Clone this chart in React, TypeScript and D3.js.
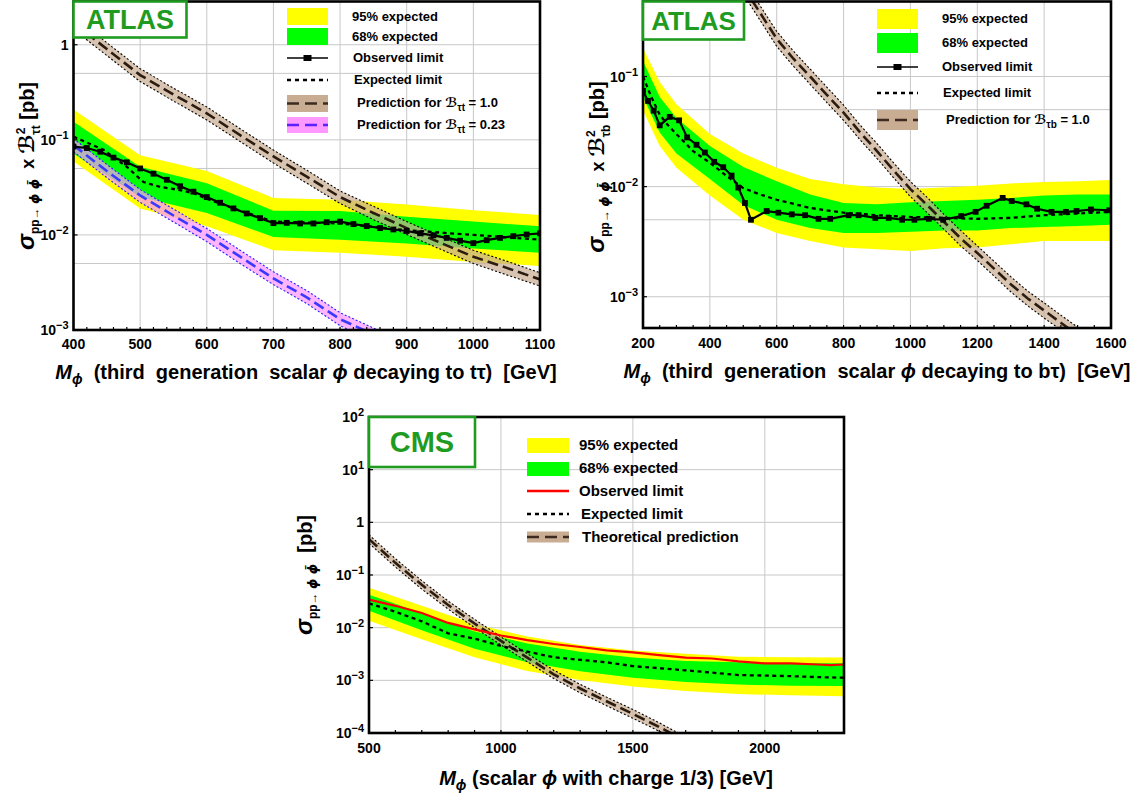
import React from "react";
import * as d3 from "d3";

const FONT = '"Liberation Sans", Arial, Helvetica, sans-serif';
const YELLOW = "#ffff00";
const GREEN = "#00ff00";
const TAN = "#c9ad92";
const PINK = "#ff99ff";
const LOGO = "#1f9c1f";
const GRID = "#c8c8c8";

// ---------- Panel A : t tau ----------
const ttBandX = [400, 500, 600, 700, 800, 900, 1000, 1100];
const ttYellowHi = [0.209, 0.069, 0.047, 0.0245, 0.0234, 0.0209, 0.0182, 0.0162];
const ttGreenHi = [0.155, 0.052, 0.035, 0.018, 0.0178, 0.0155, 0.0138, 0.0123];
const ttGreenLo = [0.072, 0.025, 0.017, 0.0095, 0.0089, 0.0081, 0.0072, 0.0065];
const ttYellowLo = [0.059, 0.019, 0.0123, 0.0069, 0.0065, 0.0059, 0.0052, 0.0047];
const ttExpX = [400, 445, 480, 505, 530, 555, 580, 600, 650, 700, 800, 900, 1000, 1100];
const ttExp = [0.108, 0.0785, 0.052, 0.036, 0.032, 0.03, 0.0275, 0.024, 0.018, 0.0138, 0.0132, 0.0112, 0.01, 0.0089];
const ttObsX = [400, 420, 440, 460, 480, 500, 520, 540, 560, 580, 600, 620, 640, 660, 680, 700, 720, 740, 760, 780, 800, 820, 840, 860, 880, 900, 920, 940, 960, 980, 1000, 1020, 1040, 1060, 1080, 1100];
const ttObs = [0.085, 0.082, 0.075, 0.065, 0.058, 0.05, 0.044, 0.038, 0.0325, 0.0285, 0.025, 0.0218, 0.019, 0.0168, 0.015, 0.0133, 0.0134, 0.0132, 0.0132, 0.0136, 0.0138, 0.013, 0.0124, 0.0118, 0.0114, 0.011, 0.0104, 0.0099, 0.0093, 0.0087, 0.0082, 0.0088, 0.0093, 0.0097, 0.0101, 0.0104];
const ttThX = [400, 450, 500, 550, 600, 650, 700, 750, 800, 850, 900, 950, 1000, 1050, 1100];
const ttTh = [1.7, 0.9, 0.48, 0.3, 0.19, 0.112, 0.067, 0.041, 0.025, 0.017, 0.0118, 0.0083, 0.0059, 0.0045, 0.0034];
const ttThHi = [1.99, 1.05, 0.56, 0.35, 0.222, 0.131, 0.078, 0.048, 0.029, 0.02, 0.0138, 0.0097, 0.0069, 0.0053, 0.004];
const ttThLo = [1.45, 0.77, 0.41, 0.256, 0.162, 0.096, 0.057, 0.035, 0.0214, 0.0145, 0.0101, 0.0071, 0.005, 0.0038, 0.0029];
const ttTh23 = [0.088, 0.047, 0.026, 0.016, 0.01, 0.0059, 0.0035, 0.0022, 0.0013, 0.0009, 0.00062, 0.00044, 0.00031, 0.00024, 0.00018];
const ttTh23Hi = [0.103, 0.055, 0.03, 0.0187, 0.0117, 0.0069, 0.0041, 0.0026, 0.00152, 0.00105, 0.00073, 0.00051, 0.00036, 0.00028, 0.00021];
const ttTh23Lo = [0.075, 0.04, 0.022, 0.0137, 0.0085, 0.005, 0.003, 0.0019, 0.00111, 0.00077, 0.00053, 0.00038, 0.00026, 0.00021, 0.00015];
const ttXTicks = [400, 500, 600, 700, 800, 900, 1000, 1100];
const ttYGrid = [1, 0.5, 0.1, 0.05, 0.01, 0.005, 0.001];
const ttYLabels: [number, string, string][] = [[1, "1", ""], [0.1, "10", "−1"], [0.01, "10", "−2"], [0.001, "10", "−3"]];

// ---------- Panel B : b tau ----------
const tbBandX = [200, 250, 300, 400, 500, 600, 700, 800, 900, 1000, 1100, 1200, 1300, 1400, 1500, 1600];
const tbYellowHi = [0.182, 0.089, 0.056, 0.03, 0.02, 0.0148, 0.0117, 0.0105, 0.0098, 0.0095, 0.0098, 0.0102, 0.0107, 0.011, 0.0112, 0.0115];
const tbGreenHi = [0.138, 0.065, 0.042, 0.0234, 0.0151, 0.0112, 0.0085, 0.0071, 0.0069, 0.0072, 0.0074, 0.0076, 0.0079, 0.0083, 0.0085, 0.0085];
const tbGreenLo = [0.065, 0.031, 0.02, 0.0117, 0.0068, 0.005, 0.0042, 0.0038, 0.0038, 0.0039, 0.004, 0.004, 0.0042, 0.0043, 0.0044, 0.0045];
const tbYellowLo = [0.049, 0.0234, 0.0148, 0.0083, 0.005, 0.0038, 0.0032, 0.0028, 0.0027, 0.0026, 0.00275, 0.0028, 0.003, 0.0032, 0.0032, 0.0032];
const tbExpX = [200, 225, 250, 275, 300, 350, 400, 450, 500, 550, 600, 700, 800, 900, 1000, 1100, 1200, 1300, 1400, 1500, 1600];
const tbExp = [0.1, 0.065, 0.045, 0.036, 0.03, 0.021, 0.0165, 0.0125, 0.0097, 0.0085, 0.0076, 0.0064, 0.0058, 0.0055, 0.0053, 0.0052, 0.0051, 0.0052, 0.0055, 0.0057, 0.0059];
const tbObsX = [200, 215, 232, 250, 280, 308, 332, 360, 385, 413, 440, 465, 485, 505, 523, 570, 605, 645, 685, 725, 760, 815, 845, 895, 935, 975, 1012, 1055, 1098, 1152, 1195, 1228, 1276, 1303, 1347, 1379, 1422, 1465, 1497, 1540, 1595];
const tbObs = [0.074, 0.06, 0.049, 0.036, 0.043, 0.04, 0.028, 0.024, 0.0204, 0.0168, 0.015, 0.0126, 0.0098, 0.0071, 0.005, 0.006, 0.0058, 0.0056, 0.0055, 0.0051, 0.0051, 0.0055, 0.0055, 0.0052, 0.0052, 0.005, 0.005, 0.0051, 0.005, 0.0054, 0.0059, 0.0067, 0.0079, 0.0074, 0.0069, 0.0063, 0.0059, 0.0059, 0.006, 0.0062, 0.0061];
const tbThX = [500, 550, 600, 650, 700, 750, 800, 850, 900, 950, 1000, 1050, 1100, 1150, 1200, 1250, 1300, 1350, 1400, 1450, 1500, 1550];
const tbTh = [0.65, 0.38, 0.22, 0.145, 0.1, 0.068, 0.047, 0.031, 0.021, 0.014, 0.0095, 0.0068, 0.0048, 0.0034, 0.0025, 0.0018, 0.0013, 0.00097, 0.00075, 0.00058, 0.00045, 0.00035];
const tbThHi = [0.76, 0.44, 0.257, 0.17, 0.117, 0.08, 0.055, 0.036, 0.0246, 0.0164, 0.0111, 0.008, 0.0056, 0.004, 0.0029, 0.0021, 0.00152, 0.00113, 0.00088, 0.00068, 0.00053, 0.00041];
const tbThLo = [0.56, 0.325, 0.188, 0.124, 0.085, 0.058, 0.04, 0.0265, 0.018, 0.012, 0.0081, 0.0058, 0.0041, 0.0029, 0.00214, 0.00154, 0.00111, 0.00083, 0.00064, 0.0005, 0.00038, 0.0003];
const tbXTicks = [200, 400, 600, 800, 1000, 1200, 1400, 1600];
const tbYGrid = [0.1, 0.05, 0.01, 0.005, 0.001];
const tbYLabels: [number, string, string][] = [[0.1, "10", "−1"], [0.01, "10", "−2"], [0.001, "10", "−3"]];

// ---------- Panel C : CMS ----------
const cmsBandX = [500, 700, 900, 1100, 1300, 1500, 1700, 1900, 2100, 2300];
const cmsYellowHi = [0.057, 0.026, 0.0117, 0.0068, 0.0047, 0.0037, 0.0032, 0.0028, 0.00275, 0.0027];
const cmsGreenHi = [0.042, 0.019, 0.0085, 0.005, 0.0035, 0.0027, 0.00234, 0.0022, 0.0021, 0.0021];
const cmsGreenLo = [0.021, 0.0089, 0.004, 0.0022, 0.00148, 0.00112, 0.00093, 0.00083, 0.00079, 0.00078];
const cmsYellowLo = [0.0135, 0.006, 0.00275, 0.0015, 0.00102, 0.00076, 0.00063, 0.00055, 0.00052, 0.0005];
const cmsExpX = [500, 600, 700, 800, 900, 1000, 1100, 1200, 1300, 1400, 1500, 1600, 1700, 1800, 1900, 2000, 2100, 2200, 2300];
const cmsExp = [0.029, 0.02, 0.0132, 0.0078, 0.0062, 0.0045, 0.0035, 0.00275, 0.00245, 0.0022, 0.00186, 0.0017, 0.00155, 0.0014, 0.00126, 0.00123, 0.0012, 0.00115, 0.00112];
const cmsObsX = [500, 600, 700, 800, 900, 1000, 1100, 1200, 1300, 1400, 1500, 1600, 1700, 1800, 1900, 2000, 2100, 2200, 2250, 2300];
const cmsObs = [0.034, 0.026, 0.019, 0.0123, 0.0093, 0.0071, 0.0058, 0.0049, 0.0043, 0.0037, 0.0034, 0.003, 0.0027, 0.0026, 0.0023, 0.0021, 0.0021, 0.002, 0.00195, 0.002];
const cmsThX = [500, 600, 700, 800, 900, 1000, 1100, 1200, 1300, 1400, 1500, 1600, 1700];
const cmsTh = [0.48, 0.17, 0.065, 0.027, 0.012, 0.0056, 0.0027, 0.0013, 0.0007, 0.0004, 0.00023, 0.00013, 0.00007];
const cmsThHi = [0.58, 0.204, 0.078, 0.032, 0.0144, 0.0067, 0.0032, 0.00156, 0.00084, 0.00048, 0.00028, 0.000156, 0.000084];
const cmsThLo = [0.4, 0.142, 0.054, 0.0225, 0.01, 0.0047, 0.00225, 0.00108, 0.00058, 0.00033, 0.00019, 0.000108, 0.000058];
const cmsXTicks = [500, 1000, 1500, 2000];
const cmsYGrid = [100, 10, 1, 0.1, 0.01, 0.001, 0.0001];
const cmsYLabels: [number, string, string][] = [[100, "10", "2"], [10, "10", "1"], [1, "1", ""], [0.1, "10", "−1"], [0.01, "10", "−2"], [0.001, "10", "−3"], [0.0001, "10", "−4"]];

type S = { x: d3.ScaleLinear<number, number>; y: d3.ScaleLogarithmic<number, number> };

function area(s: S, X: number[], lo: number[], hi: number[]) {
  return d3.area<number>().x((i) => s.x(X[i])).y0((i) => s.y(lo[i])).y1((i) => s.y(hi[i]))(X.map((_, i) => i)) || "";
}
function line(s: S, X: number[], Y: number[]) {
  return d3.line<number>().x((i) => s.x(X[i])).y((i) => s.y(Y[i]))(X.map((_, i) => i)) || "";
}

function Bands({ s, X, yh, gh, gl, yl }: any) {
  return (
    <g>
      <path d={area(s, X, yl, yh)} fill={YELLOW} />
      <path d={area(s, X, gl, gh)} fill={GREEN} />
    </g>
  );
}

function Theory({ s, X, c, lo, hi, fill, edge, lineColor }: any) {
  return (
    <g>
      <path d={area(s, X, lo, hi)} fill={fill} fillOpacity={0.72} />
      <path d={line(s, X, lo)} fill="none" stroke={edge} strokeWidth={1.1} strokeDasharray="2,2" />
      <path d={line(s, X, hi)} fill="none" stroke={edge} strokeWidth={1.1} strokeDasharray="2,2" />
      <path d={line(s, X, c)} fill="none" stroke={lineColor} strokeWidth={2.6} strokeDasharray="11,5" />
    </g>
  );
}

function Observed({ s, X, Y, color, markers }: any) {
  return (
    <g>
      <path d={line(s, X, Y)} fill="none" stroke={color} strokeWidth={2.2} />
      {markers &&
        X.map((v: number, i: number) => (
          <rect key={i} x={s.x(v) - 2.9} y={s.y(Y[i]) - 2.9} width={5.8} height={5.8} fill="#000" />
        ))}
    </g>
  );
}

function Expected({ s, X, Y }: any) {
  return <path d={line(s, X, Y)} fill="none" stroke="#000" strokeWidth={2.3} strokeDasharray="4,3.5" />;
}

function Panel(p: any) {
  const x = d3.scaleLinear().domain(p.xd).range([p.L, p.R]);
  const y = d3.scaleLog().domain(p.yd).range([p.B, p.T]);
  const s: S = { x, y };
  const minor = d3.range(p.xd[0], p.xd[1] + 0.001, p.xMinor);
  return (
    <g fontFamily={FONT} fontWeight="bold">
      <defs>
        <clipPath id={p.id}>
          <rect x={p.L} y={p.T} width={p.R - p.L} height={p.B - p.T} />
        </clipPath>
      </defs>
      <rect x={p.L} y={p.T} width={p.R - p.L} height={p.B - p.T} fill="#fff" />
      {p.xTicks.map((v: number) => (
        <line key={"gx" + v} x1={x(v)} x2={x(v)} y1={p.T} y2={p.B} stroke={GRID} strokeWidth={1} />
      ))}
      {p.yGrid.map((v: number) => (
        <line key={"gy" + v} x1={p.L} x2={p.R} y1={y(v)} y2={y(v)} stroke={GRID} strokeWidth={1} />
      ))}
      <g clipPath={`url(#${p.id})`}>{p.render(s)}</g>
      {minor.map((v: number) => (
        <line key={"mx" + v} x1={x(v)} x2={x(v)} y1={p.B} y2={p.B - 3} stroke="#000" strokeWidth={1.2} />
      ))}
      {p.yLabels.map((d: any) => (
        <line key={"ty" + d[0]} x1={p.L} x2={p.L + 4} y1={y(d[0])} y2={y(d[0])} stroke="#000" strokeWidth={1.2} />
      ))}
      <rect x={p.L} y={p.T} width={p.R - p.L} height={p.B - p.T} fill="none" stroke="#000" strokeWidth={2.6} />
      {p.xTicks.map((v: number) => (
        <text key={"lx" + v} x={x(v)} y={p.B + p.xLabDy} textAnchor="middle" fontSize={p.tickFs}>
          {v}
        </text>
      ))}
      {p.yLabels.map((d: any) => (
        <text key={"ly" + d[0]} x={p.L - 5} y={y(d[0]) + 5} textAnchor="end" fontSize={p.tickFs}>
          <tspan>{d[1]}</tspan>
          {d[2] && (
            <tspan dy={-6} fontSize={p.tickFs - 3}>
              {d[2]}
            </tspan>
          )}
        </text>
      ))}
    </g>
  );
}

const PHI_FONT = '"DejaVu Sans", sans-serif';

function YTitle({ x, y, sub }: any) {
  return (
    <text transform={`translate(${x},${y}) rotate(-90)`} textAnchor="middle" fontFamily={FONT} fontWeight="bold" fontSize={20} style={{ whiteSpace: "pre" }}>
      <tspan fontStyle="italic" fontSize={24}>σ</tspan>
      <tspan fontSize={12} dy={5}>pp→ </tspan>
      <tspan fontSize={13} fontStyle="italic" fontFamily={PHI_FONT}>ϕ ϕ̄</tspan>
      {sub ? (
        <>
          <tspan dy={-5} fontSize={18}>  x </tspan>
          <tspan fontStyle="italic" fontSize={21} fontFamily={PHI_FONT}>ℬ</tspan>
          <tspan fontSize={12} dy={-9}>2</tspan>
          <tspan fontSize={12} dx={-7} dy={15}>{sub}</tspan>
          <tspan fontSize={20} dy={-6}> [pb]</tspan>
        </>
      ) : (
        <tspan dy={-5} fontSize={20}>  [pb]</tspan>
      )}
    </text>
  );
}

function XTitle({ x, y, text }: any) {
  return (
    <text x={x} y={y} textAnchor="middle" fontFamily={FONT} fontWeight="bold" fontSize={20} style={{ whiteSpace: "pre" }}>
      <tspan fontStyle="italic">M</tspan>
      <tspan fontStyle="italic" fontSize={14} dy={5}>ϕ</tspan>
      <tspan dy={-5}>{text[0]}</tspan>
      <tspan fontStyle="italic">ϕ</tspan>
      <tspan>{text[1]}</tspan>
    </text>
  );
}

function LegendText({ x, y, fs, children }: any) {
  return (
    <text x={x} y={y} fontFamily={FONT} fontWeight="bold" fontSize={fs} style={{ whiteSpace: "pre" }}>
      {children}
    </text>
  );
}

function Logo({ x, y, w, h, text, fs }: any) {
  return (
    <g>
      <rect x={x} y={y} width={w} height={h} fill="#fff" stroke={LOGO} strokeWidth={2.6} />
      <text x={x + w / 2} y={y + h / 2 + fs * 0.36} textAnchor="middle" fontFamily={FONT} fontWeight="bold" fontSize={fs} fill={LOGO}>
        {text}
      </text>
    </g>
  );
}

function ObsSwatch({ x1, x2, y }: any) {
  return (
    <g>
      <line x1={x1} x2={x2} y1={y} y2={y} stroke="#000" strokeWidth={1.5} />
      <rect x={(x1 + x2) / 2 - 4} y={y - 3} width={8} height={6} fill="#000" />
    </g>
  );
}
function ExpSwatch({ x1, x2, y }: any) {
  return <line x1={x1} x2={x2} y1={y} y2={y} stroke="#000" strokeWidth={2.5} strokeDasharray="4,4" />;
}
function ThSwatch({ x1, x2, y, h, fill, color }: any) {
  return (
    <g>
      <rect x={x1} y={y - h / 2} width={x2 - x1} height={h} fill={fill} />
      <line x1={x1} x2={x2} y1={y} y2={y} stroke={color} strokeWidth={2.6} strokeDasharray="12,6" />
    </g>
  );
}

export default function App() {
  return (
    <div>
      <style>{`body{margin:0;background:#fff}`}</style>
      <svg width={1134} height={800} viewBox="0 0 1134 800" style={{ display: "block" }}>
        <rect width={1134} height={800} fill="#fff" />
        {/* Panel A */}
        <Panel
          id="clipA" L={73.5} R={540} T={1.5} B={330} xd={[400, 1100]} yd={[0.001, 2.85]}
          xTicks={ttXTicks} xMinor={20} yGrid={ttYGrid} yLabels={ttYLabels} tickFs={14} xLabDy={19}
          render={(s: S) => (
            <g>
              <Bands s={s} X={ttBandX} yh={ttYellowHi} gh={ttGreenHi} gl={ttGreenLo} yl={ttYellowLo} />
              <Theory s={s} X={ttThX} c={ttTh} lo={ttThLo} hi={ttThHi} fill={TAN} edge="#000" lineColor="#2a1c10" />
              <Theory s={s} X={ttThX} c={ttTh23} lo={ttTh23Lo} hi={ttTh23Hi} fill={PINK} edge="#2222ff" lineColor="#3a3aff" />
              <Expected s={s} X={ttExpX} Y={ttExp} />
              <Observed s={s} X={ttObsX} Y={ttObs} color="#000" markers />
            </g>
          )}
        />
        <Logo x={73.5} y={1.5} w={113} h={36} text="ATLAS" fs={27} />
        <rect x={287} y={8} width={41} height={17} fill={YELLOW} />
        <rect x={287} y={28} width={41} height={17} fill={GREEN} />
        <ObsSwatch x1={287} x2={328} y={58} />
        <ExpSwatch x1={287} x2={328} y={80} />
        <ThSwatch x1={287} x2={328} y={103.5} h={17} fill={TAN} color="#3d2b1f" />
        <ThSwatch x1={287} x2={328} y={125} h={16} fill={PINK} color="#5a22ff" />
        <LegendText x={352} y={21} fs={13}>95% expected</LegendText>
        <LegendText x={352} y={41} fs={13}>68% expected</LegendText>
        <LegendText x={353} y={62} fs={13}>Observed limit</LegendText>
        <LegendText x={354} y={84} fs={13}>Expected limit</LegendText>
        <LegendText x={357} y={107} fs={13}>
          Prediction for <tspan fontStyle="italic" fontFamily={PHI_FONT}>ℬ</tspan><tspan fontSize={10} dy={4}>τt</tspan><tspan dy={-4}> = 1.0</tspan>
        </LegendText>
        <LegendText x={357} y={129} fs={13}>
          Prediction for <tspan fontStyle="italic" fontFamily={PHI_FONT}>ℬ</tspan><tspan fontSize={10} dy={4}>τt</tspan><tspan dy={-4}> = 0.23</tspan>
        </LegendText>
        <YTitle x={34} y={166} sub="τt" />
        <XTitle x={306} y={379} text={["  (third  generation  scalar ", " decaying to tτ)  [GeV]"]} />

        {/* Panel B */}
        <Panel
          id="clipB" L={643} R={1111} T={1.5} B={328} xd={[200, 1600]} yd={[0.00052, 0.48]}
          xTicks={tbXTicks} xMinor={50} yGrid={tbYGrid} yLabels={tbYLabels} tickFs={14} xLabDy={20}
          render={(s: S) => (
            <g>
              <Bands s={s} X={tbBandX} yh={tbYellowHi} gh={tbGreenHi} gl={tbGreenLo} yl={tbYellowLo} />
              <Theory s={s} X={tbThX} c={tbTh} lo={tbThLo} hi={tbThHi} fill={TAN} edge="#000" lineColor="#2a1c10" />
              <Expected s={s} X={tbExpX} Y={tbExp} />
              <Observed s={s} X={tbObsX} Y={tbObs} color="#000" markers />
            </g>
          )}
        />
        <Logo x={643} y={1.5} w={101} h={38} text="ATLAS" fs={26} />
        <rect x={877} y={9} width={41} height={20} fill={YELLOW} />
        <rect x={877} y={33} width={41} height={20} fill={GREEN} />
        <ObsSwatch x1={877} x2={918} y={67} />
        <ExpSwatch x1={877} x2={918} y={93} />
        <ThSwatch x1={877} x2={918} y={120} h={20} fill={TAN} color="#3d2b1f" />
        <LegendText x={942} y={23} fs={13}>95% expected</LegendText>
        <LegendText x={942} y={47} fs={13}>68% expected</LegendText>
        <LegendText x={942} y={71} fs={13}>Observed limit</LegendText>
        <LegendText x={943} y={97} fs={13}>Expected limit</LegendText>
        <LegendText x={946} y={124} fs={13}>
          Prediction for <tspan fontStyle="italic" fontFamily={PHI_FONT}>ℬ</tspan><tspan fontSize={10} dy={4}>τb</tspan><tspan dy={-4}> = 1.0</tspan>
        </LegendText>
        <YTitle x={604} y={167} sub="τb" />
        <XTitle x={877} y={378} text={["  (third  generation  scalar ", " decaying to bτ)  [GeV]"]} />

        {/* Panel C */}
        <Panel
          id="clipC" L={369} R={844} T={417} B={733} xd={[500, 2300]} yd={[0.0001, 100]}
          xTicks={cmsXTicks} xMinor={100} yGrid={cmsYGrid} yLabels={cmsYLabels} tickFs={14} xLabDy={20}
          render={(s: S) => (
            <g>
              <Bands s={s} X={cmsBandX} yh={cmsYellowHi} gh={cmsGreenHi} gl={cmsGreenLo} yl={cmsYellowLo} />
              <Theory s={s} X={cmsThX} c={cmsTh} lo={cmsThLo} hi={cmsThHi} fill={TAN} edge="#000" lineColor="#2a1c10" />
              <Observed s={s} X={cmsObsX} Y={cmsObs} color="#ff0000" markers={false} />
              <Expected s={s} X={cmsExpX} Y={cmsExp} />
            </g>
          )}
        />
        <Logo x={369} y={417} w={106} h={50} text="CMS" fs={29} />
        <rect x={527} y={438} width={42} height={15} fill={YELLOW} />
        <rect x={527} y={462} width={42} height={14} fill={GREEN} />
        <line x1={527} x2={569} y1={491} y2={491} stroke="#ff0000" strokeWidth={2.6} />
        <ExpSwatch x1={527} x2={569} y={514} />
        <ThSwatch x1={527} x2={569} y={537} h={11} fill={TAN} color="#3d2b1f" />
        <LegendText x={579} y={450} fs={15}>95% expected</LegendText>
        <LegendText x={579} y={473} fs={15}>68% expected</LegendText>
        <LegendText x={579} y={496} fs={15}>Observed limit</LegendText>
        <LegendText x={581} y={519} fs={15}>Expected limit</LegendText>
        <LegendText x={582} y={542} fs={15}>Theoretical prediction</LegendText>
        <YTitle x={312} y={575} sub={null} />
        <XTitle x={606} y={785} text={[" (scalar ", " with charge 1/3) [GeV]"]} />
      </svg>
    </div>
  );
}
